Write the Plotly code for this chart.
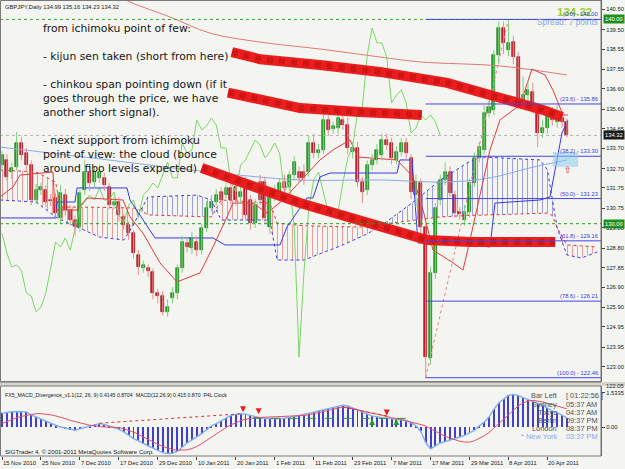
import numpy as np
import plotly.graph_objects as go

# ------------------------------------------------------------------ data
date_labels = ["15 Nov 2010", "25 Nov 2010", "7 Dec 2010", "17 Dec 2010", "29 Dec 2010",
               "10 Jan 2011", "20 Jan 2011", "1 Feb 2011", "11 Feb 2011", "23 Feb 2011",
               "7 Mar 2011", "17 Mar 2011", "29 Mar 2011", "8 Apr 2011", "20 Apr 2011"]
date_label_bars = [0, 8, 16, 24, 32, 40, 48, 56, 64, 72, 80, 88, 96, 104, 112]

open_ = [132.87, 133.12, 132.53, 132.78, 133.95, 133.46, 132.87, 131.16, 131.65, 131.65,
         131.16, 131.26, 130.28, 131.40, 130.67, 130.18, 129.84, 131.65, 132.53, 132.04,
         132.24, 132.24, 131.80, 130.91, 131.06, 130.33, 129.94, 129.54, 128.47, 127.83,
         127.83, 127.63, 126.61, 126.46, 125.68, 126.36, 126.61, 127.83, 129.05, 128.81,
         129.10, 128.71, 129.79, 130.77, 131.06, 131.55, 131.40, 131.75, 131.80, 131.31,
         132.04, 131.16, 130.03, 132.04, 132.04, 129.84, 131.31, 131.40, 132.04, 131.80,
         132.38, 132.53, 132.53, 132.53, 133.95, 133.46, 133.61, 135.08, 134.64, 134.68,
         135.08, 134.83, 133.51, 133.71, 132.04, 131.65, 132.87, 133.12, 133.36, 134.10,
         133.95, 133.12, 133.51, 133.95, 133.22, 131.40, 131.99, 129.84, 123.42, 127.59,
         131.16, 132.14, 132.53, 131.40, 130.57, 130.18, 130.57, 131.99, 133.22, 133.61,
         135.42, 135.57, 138.26, 139.58, 138.50, 138.89, 138.16, 136.06, 136.30, 136.45,
         135.42, 134.44, 134.68, 135.32, 134.98, 135.17, 134.99]
high = [133.55, 133.40, 133.00, 134.50, 134.25, 133.70, 133.10, 131.95, 132.00, 131.90,
        131.45, 131.50, 131.90, 131.70, 130.90, 130.40, 131.70, 133.10, 132.90, 132.80,
        132.90, 132.50, 132.00, 131.30, 131.30, 130.50, 130.10, 129.70, 128.70, 128.20,
        128.00, 127.80, 126.80, 126.70, 126.30, 126.90, 128.00, 129.40, 129.30, 129.60,
        129.40, 130.00, 131.10, 131.40, 131.70, 131.80, 132.00, 132.00, 132.10, 131.80,
        132.30, 131.40, 131.20, 132.40, 132.30, 131.60, 131.90, 132.20, 132.40, 132.60,
        133.30, 132.80, 132.90, 134.30, 134.40, 133.90, 135.40, 135.30, 135.00, 135.50,
        135.30, 135.20, 134.00, 134.00, 132.30, 133.10, 133.40, 133.90, 134.40, 134.40,
        134.20, 133.80, 134.20, 134.20, 133.40, 132.40, 132.20, 130.00, 127.90, 131.00,
        132.40, 133.00, 132.80, 131.60, 130.80, 130.90, 132.20, 133.50, 134.00, 135.80,
        136.00, 138.50, 139.90, 139.90, 140.00, 139.20, 138.40, 137.20, 137.00, 136.90,
        135.70, 135.10, 135.60, 135.70, 135.80, 135.50, 135.16]
low = [132.70, 132.10, 132.20, 132.60, 133.10, 132.60, 130.90, 130.95, 131.40, 130.80,
       130.85, 130.20, 130.00, 130.40, 129.90, 129.40, 129.60, 131.40, 131.60, 131.80,
       132.00, 131.60, 130.70, 130.70, 130.10, 129.70, 129.20, 128.30, 127.50, 127.60,
       127.40, 126.30, 126.10, 125.50, 125.45, 126.10, 126.30, 127.60, 128.60, 128.50,
       128.40, 128.50, 129.60, 130.60, 130.90, 130.90, 131.20, 130.90, 130.90, 131.00,
       130.20, 129.70, 129.80, 130.90, 130.00, 129.50, 131.10, 131.20, 131.50, 131.60,
       132.10, 132.00, 131.90, 132.30, 133.20, 133.20, 133.40, 134.30, 134.40, 134.40,
       134.60, 133.40, 133.20, 131.80, 131.00, 131.40, 132.60, 132.90, 133.10, 133.60,
       132.90, 132.90, 133.30, 133.20, 131.20, 130.80, 129.50, 122.46, 123.10, 127.30,
       130.90, 131.90, 131.30, 130.30, 130.20, 129.90, 130.30, 131.80, 133.00, 133.40,
       135.20, 135.30, 137.80, 138.30, 138.20, 137.80, 135.60, 135.80, 135.80, 135.40,
       133.75, 134.20, 134.40, 134.80, 134.70, 134.70, 134.23]
close = [133.36, 132.29, 132.73, 133.95, 133.36, 132.87, 131.16, 131.65, 131.80, 131.06,
         131.11, 130.52, 131.50, 130.67, 130.18, 129.84, 131.50, 132.53, 131.99, 132.53,
         132.53, 131.89, 130.91, 131.06, 130.43, 129.94, 129.54, 128.57, 127.88, 127.98,
         127.69, 126.61, 126.46, 125.68, 125.92, 126.61, 127.83, 129.10, 128.86, 129.30,
         128.71, 129.79, 130.77, 131.06, 131.40, 131.16, 131.75, 131.16, 131.16, 131.55,
         130.43, 130.03, 130.91, 131.16, 130.28, 131.40, 131.65, 131.99, 131.75, 132.38,
         133.02, 132.24, 132.24, 133.95, 133.46, 133.61, 135.08, 134.59, 134.78, 135.17,
         134.83, 133.71, 133.71, 132.04, 131.55, 132.87, 133.12, 133.61, 134.10, 133.85,
         133.22, 133.51, 133.95, 133.46, 131.55, 132.04, 129.84, 123.47, 127.59, 130.77,
         132.14, 132.53, 131.50, 130.52, 130.47, 130.57, 131.99, 133.22, 133.76, 135.42,
         135.71, 138.26, 139.58, 138.85, 138.85, 138.16, 135.91, 136.30, 136.55, 135.91,
         134.44, 134.68, 135.32, 135.08, 135.32, 134.98, 134.32]

tenkan_bar = [-0.41, 2.26, 3.70, 10.47, 10.88, 15.40, 17.45, 24.85, 26.28, 28.95, 32.44,
              35.93, 40.66, 43.33, 46.20, 47.43, 51.54, 54.41, 57.70, 61.19, 65.30, 67.97,
              71.46, 73.10, 81.11, 84.39, 86.45, 88.50, 92.40, 94.66, 96.10, 100.21,
              102.26, 106.37, 108.83, 111.50, 113.14, 115.20, 116.22]
tenkan_val = [131.31, 131.80, 132.38, 132.53, 130.67, 130.67, 131.26, 131.16, 130.33, 129.54,
              128.08, 127.15, 127.59, 128.86, 130.33, 131.01, 131.01, 130.52, 131.16, 132.04,
              133.12, 133.61, 134.10, 133.26, 133.12, 132.29, 130.67, 128.71, 128.12, 127.73,
              129.20, 133.61, 135.08, 135.81, 137.57, 137.28, 136.54, 135.32, 135.32]
kijun_bar = [-0.41, 10.88, 11.29, 14.99, 15.40, 25.67, 26.28, 31.42, 43.33, 45.79, 57.08,
             58.52, 62.63, 63.86, 65.30, 67.35, 81.11, 81.72, 84.19, 85.42, 96.10, 100.21,
             101.23, 110.47, 112.53, 113.55, 114.17, 114.99, 116.22]
kijun_val = [130.28, 130.28, 131.06, 131.06, 131.75, 131.75, 131.16, 129.30, 129.30, 128.96,
             128.96, 129.84, 131.26, 131.26, 132.29, 132.48, 132.48, 133.12, 133.12, 129.06,
             128.96, 128.86, 131.01, 131.16, 131.31, 132.63, 133.26, 134.44, 135.08]

cloud_bar = [-0.4, 7, 11, 12, 20, 25, 27, 28.5, 30, 40, 43, 45, 55, 56.5, 62, 70, 75, 78.6,
             85, 90, 95.5, 98, 100, 107, 110.5, 112, 113, 114, 116, 119, 122.2]
senkou_a = [132.63, 132.53, 132.04, 130.82, 130.80, 130.78, 130.77, 130.65, 130.43, 130.35,
            130.33, 131.16, 131.01, 130.03, 129.90, 129.85, 129.84, 129.99, 130.20, 130.33,
            130.40, 130.43, 130.43, 130.48, 130.50, 130.52, 130.40, 129.79, 128.96, 128.90,
            128.86]
senkou_b = [131.16, 131.06, 130.33, 130.20, 129.35, 129.20, 129.94, 130.67, 131.31, 131.40,
            131.16, 130.18, 130.18, 128.22, 128.22, 128.96, 129.50, 130.03, 131.16, 132.14,
            132.97, 133.26, 133.25, 133.17, 133.12, 132.63, 131.31, 129.79, 128.47, 128.32,
            128.61]

ma_blue_bar = [-0.41, 20.1, 40.7, 61.2, 77.6, 91.4, 100.2, 108.4, 116.0]
ma_blue_val = [133.75, 133.17, 132.58, 132.14, 132.14, 132.04, 132.24, 132.73, 133.12]
ma_red_bar = [22.2, 26.3, 34.5, 42.7, 53.0, 65.3, 77.6, 85.8, 102.3, 116.0]
ma_red_val = [141.34, 140.85, 140.12, 139.33, 138.89, 138.55, 138.16, 137.92, 137.72, 137.28]

macd_main = [0.62, 0.66, 0.69, 0.70, 0.70, 0.68, 0.55, 0.45, 0.35, 0.26,
             0.18, 0.08, 0.00, -0.06, -0.12, -0.15, -0.08, -0.02, 0.05, 0.12,
             0.15, 0.12, 0.05, 0.00, -0.10, -0.22, -0.38, -0.52, -0.62, -0.75,
             -0.85, -0.95, -1.05, -1.15, -1.20, -1.18, -1.10, -0.90, -0.72, -0.58,
             -0.45, -0.30, -0.12, 0.05, 0.15, 0.28, 0.42, 0.52, 0.57, 0.60,
             0.58, 0.52, 0.45, 0.42, 0.38, 0.37, 0.38, 0.38, 0.40, 0.43,
             0.48, 0.52, 0.57, 0.62, 0.66, 0.70, 0.76, 0.82, 0.88, 0.93,
             0.98, 0.95, 0.85, 0.78, 0.68, 0.58, 0.50, 0.45, 0.42, 0.40,
             0.38, 0.36, 0.32, 0.27, 0.20, 0.05, -0.20, -0.70, -0.98, -0.85,
             -0.72, -0.66, -0.58, -0.52, -0.45, -0.38, -0.28, -0.15, 0.05, 0.22,
             0.45, 0.80, 1.08, 1.25, 1.42, 1.47, 1.42, 1.32, 1.25, 1.15,
             1.05, 0.98, 0.85, 0.73, 0.65, 0.52, 0.41]
macd_signal = [0.15, 0.25, 0.33, 0.42, 0.48, 0.53, 0.58, 0.60, 0.60, 0.58,
               0.55, 0.50, 0.45, 0.38, 0.30, 0.24, 0.18, 0.12, 0.08, 0.05,
               0.02, 0.00, 0.00, 0.00, -0.02, -0.08, -0.15, -0.23, -0.33, -0.45,
               -0.57, -0.68, -0.78, -0.87, -0.95, -1.02, -1.05, -1.05, -1.03, -0.97,
               -0.88, -0.75, -0.60, -0.45, -0.30, -0.15, -0.02, 0.10, 0.20, 0.28,
               0.35, 0.40, 0.42, 0.43, 0.44, 0.45, 0.45, 0.45, 0.45, 0.46,
               0.48, 0.50, 0.52, 0.55, 0.60, 0.65, 0.70, 0.76, 0.82, 0.87,
               0.90, 0.88, 0.84, 0.78, 0.72, 0.66, 0.62, 0.58, 0.52, 0.47,
               0.42, 0.38, 0.34, 0.30, 0.22, 0.17, 0.12, 0.05, -0.08, -0.20,
               -0.32, -0.42, -0.50, -0.58, -0.64, -0.68, -0.68, -0.62, -0.52, -0.40,
               -0.25, -0.05, 0.15, 0.35, 0.58, 0.78, 0.95, 1.08, 1.17, 1.20,
               1.18, 1.13, 1.07, 1.00, 0.94, 0.88, 0.82]
macd_div1_bar, macd_div1_val = [20, 49.5], [0.17, 0.60]
macd_div2_bar, macd_div2_val = [70, 79], [0.90, 0.50]
macd_green_bar, macd_green_val = [51.5, 83.8], [0.39, 0.39]
macd_red_arrow_bar, macd_red_arrow_val = [49.5, 52.7, 79], [0.66, 0.58, 0.52]
macd_green_arrow_bar, macd_green_arrow_val = [76, 81], [0.36, 0.36]

fib_levels = [0.0, 23.6, 38.2, 50.0, 61.8, 78.6, 100.0]
fib_prices = [140.00, 135.86, 133.30, 131.23, 129.16, 126.21, 122.46]
fib_low_bar, fib_high_bar = 87, 104

stroke_kijun_bar = [47.2, 53.0, 65.3, 77.6, 91.4, 100.2, 107.0, 111.1, 115.0]
stroke_kijun_val = [138.40, 138.05, 137.77, 137.43, 136.89, 136.30, 135.91, 135.57, 135.22]
stroke_chinkou_bar = [46.4, 53.0, 61.2, 73.5, 86.2]
stroke_chinkou_val = [136.42, 136.06, 135.66, 135.47, 135.32]
stroke_cloud_bar = [41.0, 61.2, 87.3, 96.1, 113.6]
stroke_cloud_val = [132.73, 131.01, 129.20, 129.10, 129.10]

price_ticks = [140.50, 139.50, 138.55, 137.55, 136.60, 135.60, 134.65, 133.70, 132.70,
               131.75, 130.75, 129.80, 128.80, 127.85, 126.90, 125.90, 124.95, 123.95, 123.00]
macd_ticks = [1.5335, 0.0, -1.5329]
macd_tick_text = ["1.5335", "0.00", "-1.5329"]

notes = ["from ichimoku point of few:", "", "- kijun sen taken (short from here)", "",
         "- chinkou span pointing down (if it", "goes through the price, we have",
         "another short signal).", "", "- next support from ichimoku",
         "point of view: the cloud (bounce", "around fibo levels expected)"]

clock_names = ["Bar Left", "Sydney", "Tokyo", "Berlin", "London", "* New York"]
clock_times = ["[ 01:22:56 ]", "05:37 AM", "04:37 AM", "09:37 PM", "08:37 PM", "03:37 PM"]

# ------------------------------------------------------------------ layout helpers
W, H = 625, 469
BG = "#f4f5f0"
def px(x):
    return x / W
def py(y):
    return 1 - y / H

XR = [-0.41, 123.0]
main_dom = [py(382), 1.0]
macd_dom = [py(456), py(386)]
x_dom = [0, px(601)]

fig = go.Figure()
bars = list(range(len(close)))

# ---- cloud hatching
def cloud_segments(xs, a, b):
    segs = []
    cx, ca, cb = [xs[0]], [a[0]], [b[0]]
    s = np.sign(a[0] - b[0])
    for i in range(1, len(xs)):
        s2 = np.sign(a[i] - b[i])
        if s2 != 0 and s != 0 and s2 != s:
            d0, d1 = a[i - 1] - b[i - 1], a[i] - b[i]
            t = d0 / (d0 - d1)
            xc = xs[i - 1] + t * (xs[i] - xs[i - 1])
            yc = a[i - 1] + t * (a[i] - a[i - 1])
            cx.append(xc); ca.append(yc); cb.append(yc)
            segs.append((cx, ca, cb, s))
            cx, ca, cb = [xc], [yc], [yc]
            s = s2
        cx.append(xs[i]); ca.append(a[i]); cb.append(b[i])
    segs.append((cx, ca, cb, s))
    return segs

for cx, ca, cb, s in cloud_segments(cloud_bar, senkou_a, senkou_b):
    col = "#e04848" if s > 0 else "#4848e0"
    fig.add_trace(go.Scatter(x=cx, y=cb, mode="lines", line=dict(width=0),
                             showlegend=False, hoverinfo="skip"))
    fig.add_trace(go.Scatter(x=cx, y=ca, mode="lines", line=dict(width=0), fill="tonexty",
                             fillcolor="rgba(0,0,0,0)",
                             fillpattern=dict(shape="|", fgcolor=col, bgcolor="rgba(0,0,0,0)",
                                              size=5, solidity=0.2, fgopacity=0.5),
                             showlegend=False, hoverinfo="skip"))
fig.add_trace(go.Scatter(x=cloud_bar, y=senkou_a, mode="lines",
                         line=dict(color="#e03838", width=1, dash="dot"), showlegend=False))
fig.add_trace(go.Scatter(x=cloud_bar, y=senkou_b, mode="lines",
                         line=dict(color="#3a3ae8", width=1, dash="dot"), showlegend=False))

# ---- moving averages
fig.add_trace(go.Scatter(x=ma_blue_bar, y=ma_blue_val, mode="lines", line_shape="spline",
                         line=dict(color="#8aaae6", width=1), showlegend=False))
fig.add_trace(go.Scatter(x=ma_red_bar, y=ma_red_val, mode="lines", line_shape="spline",
                         line=dict(color="#e07878", width=1), showlegend=False))

# ---- chikou (close shifted 26 bars back)
fig.add_trace(go.Scatter(x=bars[:-26], y=close[26:], mode="lines",
                         line=dict(color="#7ad66a", width=1), showlegend=False))
# ---- kijun / tenkan
fig.add_trace(go.Scatter(x=kijun_bar, y=kijun_val, mode="lines",
                         line=dict(color="#3636f0", width=1), showlegend=False))
fig.add_trace(go.Scatter(x=tenkan_bar, y=tenkan_val, mode="lines",
                         line=dict(color="#e23a3a", width=1), showlegend=False))

# ---- fib diagonal
fig.add_trace(go.Scatter(x=[fib_low_bar, fib_high_bar], y=[min(low), max(high)], mode="lines",
                         line=dict(color="#e88080", width=1, dash="dot"), showlegend=False))

# ---- candles
up = [c >= o for o, c in zip(open_, close)]
for sel, wick in [(True, "#7cd07c"), (False, "#e88c8c")]:
    wx, wy = [], []
    for i in bars:
        if up[i] == sel:
            wx += [i, i, None]; wy += [low[i], high[i], None]
    fig.add_trace(go.Scatter(x=wx, y=wy, mode="lines", line=dict(color=wick, width=1),
                             showlegend=False, hoverinfo="skip"))
for sel, fill, edge in [(True, "#26a626", "#0e6b0e"), (False, "#d01c2c", "#7a0a12")]:
    idx = [i for i in bars if up[i] == sel]
    fig.add_trace(go.Bar(x=idx, base=[min(open_[i], close[i]) for i in idx],
                         y=[max(abs(close[i] - open_[i]), 0.05) for i in idx],
                         width=0.62, marker=dict(color=fill, line=dict(color=edge, width=0.6)),
                         showlegend=False, hoverinfo="skip"))

# ---- hand drawn thick strokes
for sx, sy in [(stroke_kijun_bar, stroke_kijun_val), (stroke_chinkou_bar, stroke_chinkou_val),
               (stroke_cloud_bar, stroke_cloud_val)]:
    fig.add_trace(go.Scatter(x=sx, y=sy, mode="lines", line=dict(color="#ea1e1e", width=10),
                             showlegend=False, hoverinfo="skip"))
    fig.add_trace(go.Scatter(x=sx, y=sy, mode="lines",
                             line=dict(color="#9a0000", width=6, dash="dot"), opacity=0.3,
                             showlegend=False, hoverinfo="skip"))

# ---- MACD panel
fig.add_trace(go.Bar(x=bars, y=macd_main, width=0.2, marker=dict(color="#4040cc", line_width=0),
                     xaxis="x2", yaxis="y2", showlegend=False, hoverinfo="skip"))
fig.add_trace(go.Scatter(x=bars, y=macd_main, mode="lines", line=dict(color="#7fb0ef", width=1.4),
                         xaxis="x2", yaxis="y2", showlegend=False))
fig.add_trace(go.Scatter(x=bars, y=macd_signal, mode="lines", line=dict(color="#e45064", width=1),
                         xaxis="x2", yaxis="y2", showlegend=False))
for dx, dy in [(macd_div1_bar, macd_div1_val), (macd_div2_bar, macd_div2_val)]:
    fig.add_trace(go.Scatter(x=dx, y=dy, mode="lines", line=dict(color="#e03030", width=1, dash="dot"),
                             xaxis="x2", yaxis="y2", showlegend=False))
fig.add_trace(go.Scatter(x=macd_green_bar, y=macd_green_val, mode="lines",
                         line=dict(color="#2a9a2a", width=1, dash="dash"),
                         xaxis="x2", yaxis="y2", showlegend=False))
fig.add_trace(go.Scatter(x=macd_red_arrow_bar, y=macd_red_arrow_val, mode="markers",
                         marker=dict(symbol="arrow-down", size=6, color="#e02020"),
                         xaxis="x2", yaxis="y2", showlegend=False))
fig.add_trace(go.Scatter(x=macd_green_arrow_bar, y=macd_green_arrow_val, mode="markers",
                         marker=dict(symbol="arrow-up", size=6, color="#20a020"),
                         xaxis="x2", yaxis="y2", showlegend=False))

# ------------------------------------------------------------------ shapes
shapes = []
shapes.append(dict(type="line", xref="x", yref="y", x0=XR[0], x1=XR[1], y0=140.00, y1=140.00,
                   line=dict(color="#3aa03a", width=1, dash="dot")))
shapes.append(dict(type="line", xref="x", yref="y", x0=XR[0], x1=XR[1], y0=130.00, y1=130.00,
                   line=dict(color="#2a9a2a", width=1, dash="3px,3px")))
shapes.append(dict(type="line", xref="x", yref="y", x0=XR[0], x1=XR[1], y0=close[-1], y1=close[-1],
                   line=dict(color="#b4b4b4", width=1, dash="dot")))
for p in fib_prices:
    shapes.append(dict(type="line", xref="x", yref="y", x0=fib_low_bar, x1=XR[1], y0=p, y1=p,
                       line=dict(color="#4646ea", width=1)))
shapes.append(dict(type="rect", xref="x", yref="y", x0=113.1, x1=118.3, y0=132.78, y1=133.51,
                   fillcolor="rgba(140,200,240,0.55)", line=dict(width=0)))
shapes.append(dict(type="rect", xref="paper", yref="paper", x0=px(0.5), x1=px(601), y0=py(381.5), y1=py(0.5),
                   line=dict(color="#7a7a7a", width=1)))
shapes.append(dict(type="rect", xref="paper", yref="paper", x0=0, x1=1, y0=py(386), y1=py(382),
                   fillcolor="#d6d3cb", line=dict(width=0)))
shapes.append(dict(type="line", xref="paper", yref="paper", x0=0, x1=px(601), y0=py(382), y1=py(382),
                   line=dict(color="#7a7a7a", width=1)))
shapes.append(dict(type="rect", xref="paper", yref="paper", x0=px(0.5), x1=px(601), y0=py(456), y1=py(386),
                   line=dict(color="#7a7a7a", width=1)))

# ------------------------------------------------------------------ annotations
ann = []
SANS = "Liberation Sans, Arial, sans-serif"
ann.append(dict(xref="paper", yref="paper", x=px(3), y=py(7), xanchor="left", yanchor="middle",
                text="GBPJPY,Daily 134.99 135.16 134.23 134.32", showarrow=False,
                font=dict(family=SANS, size=5.8, color="#202020")))
ann.append(dict(xref="paper", yref="paper", x=px(41), y=py(20), xanchor="left", yanchor="top",
                align="left", text="<br>".join(notes), showarrow=False,
                font=dict(family="DejaVu Sans, Verdana, sans-serif", size=10.8, color="#161616")))
ann.append(dict(xref="paper", yref="paper", x=px(594), y=py(12.5), xanchor="right", yanchor="middle",
                text="<b>134.32</b>", showarrow=False,
                font=dict(family=SANS, size=11.5, color="#9ad032")))
for lvl, p in zip(fib_levels, fib_prices):
    ann.append(dict(xref="paper", yref="y", x=px(600), y=p, xanchor="right", yanchor="bottom",
                    yshift=0, text=f"({lvl:.1f}) - {p:.2f}", showarrow=False,
                    font=dict(family=SANS, size=5.8, color="#3a3ae0")))
ann.append(dict(xref="paper", yref="paper", x=px(600), y=py(22), xanchor="right", yanchor="middle",
                text="Spread: 7 points", showarrow=False,
                font=dict(family=SANS, size=8.4, color="#8ea6e6")))
ann.append(dict(xref="x", yref="y", x=116.2, y=132.62, text="⇧", showarrow=False,
                font=dict(family="DejaVu Sans", size=9, color="#e02020")))
for p, bg in [(140.00, "#1f8f1f"), (close[-1], "#1a1a1a"), (130.00, "#1f8f1f")]:
    ann.append(dict(xref="paper", yref="y", x=px(603), y=p, xanchor="left", yanchor="middle",
                    text=f"{p:.2f}", showarrow=False, bgcolor=bg, borderpad=1,
                    font=dict(family=SANS, size=5.8, color="#ffffff")))
ann.append(dict(xref="paper", yref="paper", x=px(604), y=py(386), xanchor="left", yanchor="middle",
                text="122.05", showarrow=False, font=dict(family=SANS, size=5.8, color="#202020")))
ann.append(dict(xref="paper", yref="paper", x=px(3), y=py(395), xanchor="left", yanchor="middle",
                text="FX5_MACD_Divergence_v1.1(12, 26, 9) 0.4145 0.8704  MACD(12,26,9) 0.415 0.870  P4L Clock",
                showarrow=False, font=dict(family=SANS, size=5.2, color="#202020")))
ann.append(dict(xref="paper", yref="paper", x=px(3), y=py(451), xanchor="left", yanchor="middle",
                text="SIGTrader 4, © 2001-2011 MetaQuotes Software Corp.", showarrow=False,
                font=dict(family=SANS, size=6.1, color="#202020")))
clock_rows = [395, 404, 412, 420, 428, 436]
for k, (nm, tm) in enumerate(zip(clock_names, clock_times)):
    col = "#86a8ee" if k == len(clock_names) - 1 else "#505050"
    ann.append(dict(xref="paper", yref="paper", x=px(559), y=py(clock_rows[k]), xanchor="right",
                    yanchor="middle", text=nm, showarrow=False,
                    font=dict(family=SANS, size=7.4, color=col)))
    ann.append(dict(xref="paper", yref="paper", x=px(564), y=py(clock_rows[k]), xanchor="left",
                    yanchor="middle", text=tm, showarrow=False,
                    font=dict(family=SANS, size=7.4, color=col)))
for b, lab in zip(date_label_bars, date_labels):
    ann.append(dict(xref="x2", yref="paper", x=b, y=py(463), xanchor="left", yanchor="middle",
                    xshift=-1, text=lab, showarrow=False,
                    font=dict(family=SANS, size=5.8, color="#202020")))

fig.update_layout(
    width=W, height=H, autosize=False, margin=dict(l=0, r=0, t=0, b=0),
    paper_bgcolor=BG, plot_bgcolor=BG, barmode="overlay", bargap=0,
    hovermode=False, showlegend=False,
    shapes=shapes, annotations=ann,
    xaxis=dict(domain=x_dom, range=XR, anchor="y", showgrid=False, zeroline=False,
               showticklabels=False, ticks=""),
    yaxis=dict(domain=main_dom, range=[122.25, 140.95], anchor="x", side="right",
               showgrid=False, zeroline=False, tickmode="array", tickvals=price_ticks,
               ticktext=[f"{v:.2f}" for v in price_ticks], ticks="outside", ticklen=3,
               tickcolor="#404040", tickfont=dict(family=SANS, size=5.8, color="#202020"),
               showline=True, linecolor="#5a5a5a", linewidth=1),
    xaxis2=dict(domain=x_dom, range=XR, anchor="y2", matches="x", showgrid=False, zeroline=False,
                showticklabels=False, tickmode="array", tickvals=date_label_bars, ticks="outside",
                ticklen=3, tickcolor="#404040"),
    yaxis2=dict(domain=macd_dom, range=[-1.306, 1.847], anchor="x2", side="right",
                showgrid=False, zeroline=False, tickmode="array", tickvals=macd_ticks,
                ticktext=macd_tick_text, ticks="outside", ticklen=3, tickcolor="#404040",
                tickfont=dict(family=SANS, size=5.8, color="#202020"),
                showline=True, linecolor="#5a5a5a", linewidth=1),
)

fig.write_html("out.html")
